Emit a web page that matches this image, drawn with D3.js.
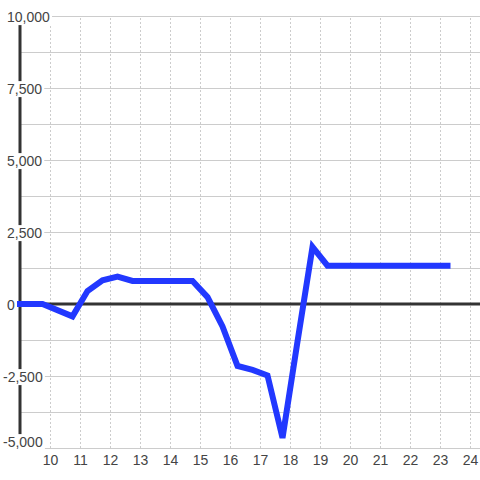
<!DOCTYPE html>
<meta charset="utf-8">
<style>

body {
  margin: 0;
  background: #fff;
  font: 14px "Liberation Sans", Arial, sans-serif;
}

.grid line {
  stroke: #ccc;
  stroke-width: 1;
}

.grid .domain {
  display: none;
}

.xgrid line {
  stroke-dasharray: 2,2;
}

.label text {
  fill: #444;
  font: 14px "Liberation Sans", Arial, sans-serif;
}

.label .domain {
  display: none;
}

.line {
  stroke: #2238ff;
  stroke-width: 6;
  stroke-linecap: square;
  fill: none;
}

</style>
<body>
<script src="https://d3js.org/d3.v7.min.js"></script>
<script>

// data: hour of day vs value
var hours  = [9, 9.75, 10.75, 11.25, 11.75, 12.25, 12.75, 14.75, 15.25, 15.75, 16.25, 16.75, 17.25, 17.75, 18.25, 18.75, 19.25, 23.25];
var values = [0, 0, -430, 450, 820, 950, 800, 800, 240, -780, -2150, -2290, -2480, -4650, -1300, 1980, 1330, 1330];

var xTicks = [10, 11, 12, 13, 14, 15, 16, 17, 18, 19, 20, 21, 22, 23, 24];
var yTicks = [-5000, -2500, 0, 2500, 5000, 7500, 10000];
var yGrid  = [-5000, -3750, -2500, -1250, 0, 1250, 2500, 3750, 5000, 6250, 7500, 8750, 10000];

var width = 480,
    height = 480,
    plotLeft = 20,
    plotTop = 16,
    plotBottom = 448;

var svg = d3.select("body").append("svg")
    .attr("width", width)
    .attr("height", height);

var x = d3.scaleLinear()
    .domain([9, 24])
    .range([plotLeft, 470]);

var y = d3.scaleLinear()
    .domain([-5000, 10000])
    .range([plotBottom, plotTop]);

// vertical dashed grid
svg.append("g")
    .attr("class", "grid xgrid")
    .attr("transform", "translate(0," + plotBottom + ")")
    .call(d3.axisBottom(x).tickValues(xTicks).tickSize(-(plotBottom - plotTop)).tickFormat(""));

// horizontal grid
svg.append("g")
    .attr("class", "grid ygrid")
    .attr("transform", "translate(" + plotLeft + ",0)")
    .call(d3.axisLeft(y).tickValues(yGrid).tickSize(-(width - plotLeft)).tickFormat(""));

// zero line
svg.append("line")
    .attr("x1", plotLeft)
    .attr("x2", width)
    .attr("y1", y(0))
    .attr("y2", y(0))
    .style("stroke", "#333")
    .style("stroke-width", 3);

// y axis line
svg.append("line")
    .attr("x1", plotLeft)
    .attr("x2", plotLeft)
    .attr("y1", y(10000))
    .attr("y2", y(-5000))
    .style("stroke", "#333")
    .style("stroke-width", 3);

var data = hours.map(function(h, i) { return {hour: h, value: values[i]}; });

var lineGenerator = d3.line()
    .x(function(d) { return x(d.hour) })
    .y(function(d) { return y(d.value) });

svg.append("path")
    .datum(data)
    .attr("class", "line")
    .attr("d", lineGenerator);

// x labels
svg.append("g")
    .attr("class", "label")
    .attr("transform", "translate(0," + plotBottom + ")")
    .call(d3.axisBottom(x).tickValues(xTicks).tickSize(0).tickPadding(7));

// y labels with white boxes
var fmt = d3.format(",");
var yLabels = svg.append("g")
    .attr("class", "label")
    .call(d3.axisLeft(y).tickValues(yTicks).tickSize(0)
      .tickFormat(function(d) { return fmt(d).replace("\u2212", "-"); }));

yLabels.selectAll(".tick text")
    .attr("text-anchor", "start")
    .attr("x", function(d) { return d < 0 ? 3 : 7 })
    .attr("dy", function(d) { return d === -5000 ? "-0.1em" : "0.4em" });

yLabels.selectAll(".tick").each(function() {
  var t = d3.select(this).select("text");
  var b = t.node().getBBox();
  d3.select(this).insert("rect", "text")
      .attr("x", b.x - 2)
      .attr("y", b.y)
      .attr("width", b.width + 4)
      .attr("height", b.height)
      .attr("fill", "#fff");
});

</script>
